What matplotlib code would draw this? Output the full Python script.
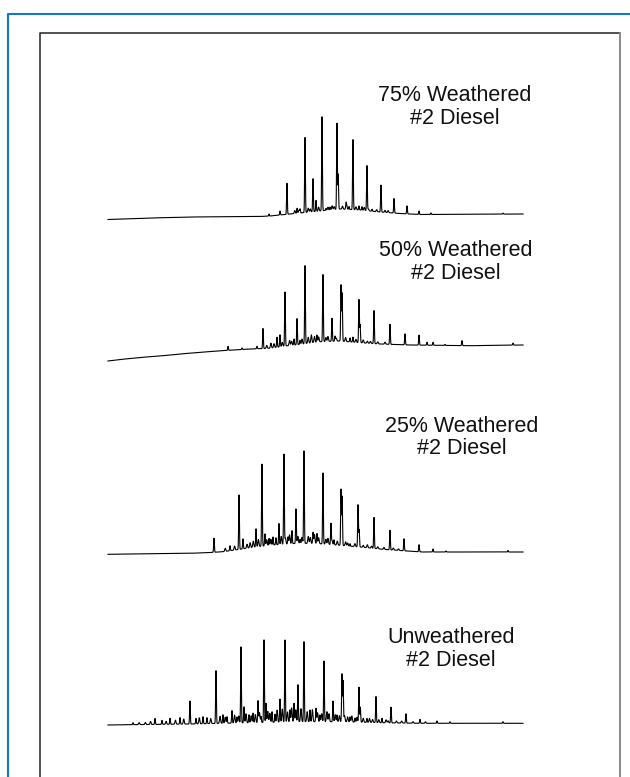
import numpy as np
import matplotlib.pyplot as plt
from matplotlib.lines import Line2D

plt.rcParams['font.family'] = ['Liberation Sans', 'DejaVu Sans']

# GC-FID traces of #2 diesel at different weathering levels
# retention time in min, response in arbitrary detector units

labels = ['75% Weathered\n#2 Diesel', '50% Weathered\n#2 Diesel',
          '25% Weathered\n#2 Diesel', 'Unweathered\n#2 Diesel']

# baseline (incl. unresolved hump): time / level
w75_base_t = [0, 4.05, 7.9, 14.65, 15.61, 18.51, 20.43, 22.36, 24.29, 26.22, 28.14, 30.07, 40]
w75_base_y = [0.5, 2, 3, 3.5, 4, 7, 9, 11, 10, 8, 6.5, 5.5, 6]
w50_base_t = [0, 1.16, 3.08, 5.01, 6.94, 8.87, 11.28, 13.69, 15.61, 17.06, 18.51, 20.43, 22.36,
              24.29, 26.22, 29.11, 34.89, 40]
w50_base_y = [1, 2.5, 4.5, 6, 8, 9.7, 11.5, 13, 13.7, 16, 17.7, 20.3, 21, 19.3, 18, 17, 16.3, 17]
w25_base_t = [0, 7.9, 9.54, 11.08, 12.72, 14.36, 15.9, 18.22, 20.14, 22.36, 24.58, 26.51, 28.82, 30.36, 40]
w25_base_y = [0.7, 1.7, 2.3, 3.3, 5.7, 8.3, 10, 11.7, 11.5, 9.7, 7.7, 5.7, 4, 3, 3]
w0_base_t = [0, 7.9, 13.69, 18.51, 22.36, 26.22, 30.07, 40]
w0_base_y = [1, 2, 3.3, 4.3, 4.3, 3.3, 2.7, 2.7]

# resolved peaks: time / height above baseline
w75_peak_t = [15.52, 16.58, 17.25, 18.22, 18.51, 18.99, 19.76, 20.05, 20.63, 21.01, 21.40,
              22.07, 22.19, 22.94, 23.23, 23.61, 24.19, 24.48, 24.96, 25.45, 26.31, 27.57,
              28.82, 29.98, 31.13, 38.07]
w75_peak_h = [2, 4, 31, 5, 4, 75, 33, 11, 94, 2, 3,
              86, 35, 5, 3, 70, 4, 3.5, 45, 2, 27, 14.5,
              8, 3.5, 1.5, 1]
w50_peak_t = [11.57, 12.92, 14.36, 14.94, 16.29, 16.58, 17.06, 17.93, 18.22, 18.51, 18.99,
              20.14, 20.72, 21.59, 21.88, 22.46, 22.57, 23.33, 23.61, 24.19, 24.30, 25.64,
              27.18, 28.63, 29.98, 30.75, 31.33, 32.48, 34.12, 39.04]
w50_peak_h = [4, 1.5, 2.5, 20, 10, 12, 54, 6, 26, 4, 78,
              7, 67, 23, 5, 56, 48, 4, 5, 43, 18, 33,
              20, 11, 10, 3, 3, 1, 5, 2]
w25_peak_t = [10.22, 11.76, 12.63, 13.01, 14.27, 14.84, 15.13, 15.52, 15.90, 16.19, 16.48,
              16.96, 17.35, 17.73, 18.12, 18.51, 18.89, 19.76, 20.14, 20.72, 21.49, 21.78,
              22.46, 22.57, 23.33, 24.10, 24.21, 25.64, 27.18, 28.53, 29.98, 31.33, 32.58, 38.55]
w25_peak_h = [14, 5, 54.5, 10, 18, 82, 12, 7, 8, 7, 21,
              90, 7, 13, 34.5, 4, 92.5, 11, 10, 71, 21, 5,
              56, 49, 2.5, 42, 17, 31, 19.5, 12, 7, 3, 1, 1.5]
w0_peak_t = [2.41, 4.53, 5.20, 5.98, 6.94, 7.90, 8.48, 9.16, 9.54, 10.41, 11.08, 11.47, 11.95,
             12.43, 12.82, 13.11, 13.59, 13.98, 14.46, 14.75, 15.04, 15.23, 15.81, 16.10, 16.58,
             17.06, 17.54, 17.93, 18.31, 18.89, 19.47, 20.05, 20.43, 20.82, 21.69, 22.07, 22.55,
             22.66, 23.33, 23.81, 24.19, 24.32, 24.96, 25.83, 26.41, 27.28, 28.72, 30.07, 31.71,
             32.96, 38.07]
w0_peak_h = [2, 6, 4, 6, 6.5, 23, 5.5, 7, 6, 52.7, 8.5, 6.5, 12.5,
             6, 76, 16, 8, 9.5, 21.7, 6, 82.5, 19, 10.5, 8, 23,
             82, 12, 18.5, 37, 80, 11.7, 13.4, 6.7, 60.7, 20.7, 6.7, 47.7,
             41, 5, 4, 35, 15, 4, 26, 4.5, 15.7, 9.3, 4, 2.3,
             1.6, 1.6]

# unresolved small components ("grass")
w75_grass_t = [18.0, 18.4, 19.3, 19.5, 20.3, 21.2, 21.6, 21.8, 22.6, 23.0, 23.9, 24.7, 25.1,
               25.9, 26.7, 27.0]
w75_grass_h = [3, 3, 4, 3, 4, 3, 4, 3, 3, 4, 3, 3, 2, 2, 2, 2]
w50_grass_t = [15.3, 15.7, 16.0, 16.8, 17.5, 17.7, 18.7, 19.3, 19.6, 19.9, 20.3, 21.0, 21.2,
               22.0, 22.9, 23.9, 24.6, 25.0, 25.3, 26.0, 26.7]
w50_grass_h = [3, 5, 4, 4, 5, 4, 5, 6, 8, 6, 5, 4, 5, 3, 4, 3, 3, 2, 2, 2, 2]
w25_grass_t = [11.3, 12.2, 13.4, 13.7, 14.0, 14.5, 15.3, 15.7, 16.7, 17.1, 17.5, 18.3, 18.7,
               19.3, 19.5, 19.9, 20.3, 21.0, 21.2, 21.6, 22.1, 22.9, 23.1, 23.8, 24.6, 25.0,
               25.4, 26.0, 26.6, 27.5, 28.0]
w25_grass_h = [3, 4, 4, 5, 6, 7, 6, 6, 8, 6, 9, 7, 6, 7, 6, 9, 6, 5, 6, 4, 4, 4, 3, 3, 2, 3,
               2, 2, 2, 2, 1.5]
w0_grass_t = [3.0, 3.6, 4.1, 5.6, 6.5, 7.3, 8.8, 9.9, 10.8, 11.3, 12.2, 12.6, 13.3, 13.8, 14.2,
              14.6, 15.4, 15.6, 16.3, 16.8, 17.3, 17.7, 18.1, 18.6, 19.2, 19.7, 20.2, 20.6,
              21.1, 21.3, 21.9, 22.3, 22.8, 23.1, 23.5, 24.0, 24.6, 25.2, 25.5, 26.1, 26.8,
              27.0, 27.8, 28.3, 29.4, 30.6]
w0_grass_h = [2, 2, 3, 3, 4, 5, 6, 5, 7, 6, 8, 7, 9, 7, 8, 10, 11, 9, 12, 13, 10, 14, 12, 13,
              10, 12, 9, 8, 10, 8, 7, 6, 6, 5, 6, 5, 4, 4, 3, 3, 3, 2, 2, 2, 1.5, 1.5]

samples = [
    (w75_base_t, w75_base_y, w75_peak_t, w75_peak_h, w75_grass_t, w75_grass_h),
    (w50_base_t, w50_base_y, w50_peak_t, w50_peak_h, w50_grass_t, w50_grass_h),
    (w25_base_t, w25_base_y, w25_peak_t, w25_peak_h, w25_grass_t, w25_grass_h),
    (w0_base_t, w0_base_y, w0_peak_t, w0_peak_h, w0_grass_t, w0_grass_h),
]

W, H = 630, 777
fig = plt.figure(figsize=(W / 100, H / 100), dpi=100)

# frame lines (pixel positions from the top-left corner)
def px(x, y):
    return x / W, 1 - y / H

blue = '#1b74c6'
fig.add_artist(Line2D(*zip(px(7.5, H + 5), px(7.5, 14), px(W + 5, 14)), color=blue, lw=1.5))
fig.add_artist(Line2D(*zip(px(39.5, H + 5), px(39.5, 32.5), px(620, 32.5)), color='#222222', lw=1.1))
fig.add_artist(Line2D(*zip(px(620, 32.5), px(620, H + 5)), color='#8a8a8a', lw=1.4))

t = np.linspace(0, 40, 4001)


def chromatogram(bt, by, pt, ph, gt, gh):
    y = np.interp(t, bt, by)
    for c, h in zip(pt, ph):
        y = y + h * np.exp(-0.5 * ((t - c) / 0.035) ** 2)
    for c, h in zip(gt, gh):
        y = y + h * np.exp(-0.5 * ((t - c) / 0.05) ** 2)
    return y


trace_ref = [220, 362, 555, 726]          # y pixel of zero response
label_pos = [(455, 107), (456, 262), (462, 437.5), (451, 649)]

for data, ref, lab, (lx, ly) in zip(samples, trace_ref, labels, label_pos):
    ax = fig.add_axes([108 / W, 1 - (ref + 10) / H, 415 / W, 140 / H])
    ax.plot(t, chromatogram(*data), color='black', lw=0.8, clip_on=False)
    ax.set_xlim(0, 40)
    ax.set_ylim(-10, 130)
    ax.axis('off')
    fig.text(lx / W, 1 - ly / H, lab, ha='center', va='center', fontsize=15.5,
             linespacing=1.08, color='#111111')

fig.savefig('out.png', dpi=100)
